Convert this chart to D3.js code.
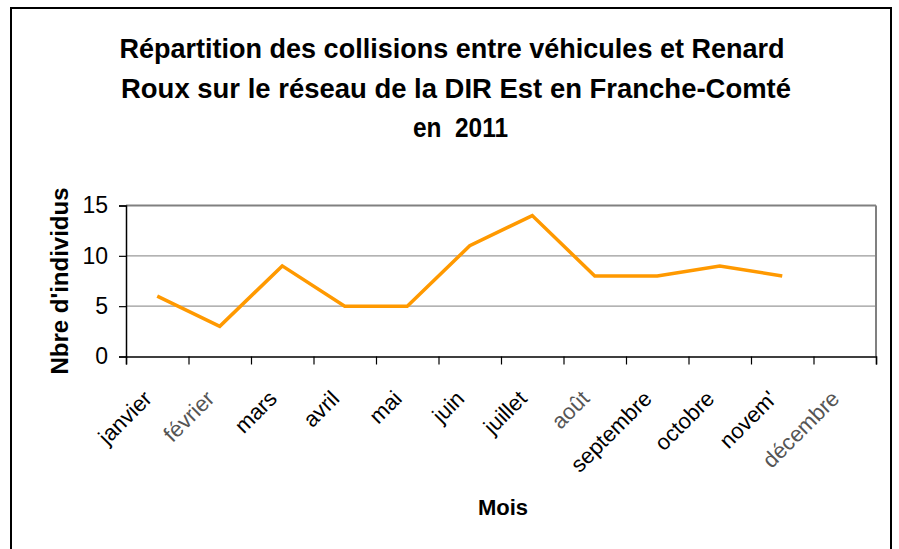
<!DOCTYPE html>
<html>
<head>
<meta charset="utf-8">
<script src="https://cdn.jsdelivr.net/npm/d3@7"></script>
<style>
  body { margin: 0; background: #fff; }
  svg { display: block; font-family: "Liberation Sans", Arial, sans-serif; }
</style>
</head>
<body>
<svg id="chart" width="899" height="549"></svg>
<script>
/* Collisions véhicules / Renard Roux, DIR Est, Franche-Comté 2011 */

// Data
var months = ["janvier", "février", "mars", "avril", "mai", "juin", "juillet",
              "août", "septembre", "octobre", "novem'", "décembre"];
var counts = [6, 3, 9, 5, 5, 11, 14, 8, 8, 9, 8, null];
var yTicks = [0, 5, 10, 15];
var titleLines = ["Répartition des collisions entre véhicules et Renard",
                  "Roux sur le réseau de la DIR Est en Franche-Comté",
                  "en  2011"];

var svg = d3.select("#chart");

/* Outer frame */
svg.append("rect")
  .attr("x", 11).attr("y", 8)
  .attr("width", 880).attr("height", 560)
  .attr("fill", "#fff")
  .attr("stroke", "#000")
  .attr("stroke-width", 2);

/* Plot area */
var plotLeft = 126, plotRight = 876, plotTop = 205.5, plotBottom = 356.5;

var x = d3.scaleBand().domain(months).range([plotLeft, plotRight]);
var xEdge = d3.scaleLinear().domain([0, months.length]).range([plotLeft, plotRight]);
var y = d3.scaleLinear().domain([0, 15]).range([plotBottom, plotTop]);

// Grid lines
svg.append("g")
  .selectAll("line")
  .data(yTicks.filter(function(d) { return d > 0; }))
  .join("line")
  .attr("x1", plotLeft).attr("x2", plotRight)
  .attr("y1", function(d) { return y(d); })
  .attr("y2", function(d) { return y(d); })
  .attr("stroke", function(d) { return d == 15 ? "#808080" : "#9a9a9a"; })
  .attr("stroke-width", function(d) { return d == 15 ? 2 : 1.2; });

// Right edge of plot area
svg.append("line")
  .attr("x1", plotRight).attr("x2", plotRight)
  .attr("y1", plotTop).attr("y2", plotBottom)
  .attr("stroke", "#808080").attr("stroke-width", 2);

/* Y axis */
var yAxis = svg.append("g")
  .attr("transform", "translate(" + plotLeft + ",0)")
  .call(d3.axisLeft(y).tickValues(yTicks).tickSize(7).tickPadding(11));
yAxis.select(".domain").attr("stroke", "#000").attr("stroke-width", 1.5);
yAxis.selectAll(".tick line").attr("stroke", "#000").attr("stroke-width", 1.2);
yAxis.selectAll(".tick text")
  .attr("font-size", 23)
  .attr("font-family", "Liberation Sans, Arial, sans-serif")
  .attr("fill", "#000");

/* X axis: ticks between categories */
var xAxis = svg.append("g")
  .attr("transform", "translate(0," + plotBottom + ")")
  .call(d3.axisBottom(xEdge).ticks(months.length).tickSize(8).tickFormat(""));
xAxis.select(".domain").attr("stroke", "#000").attr("stroke-width", 1.5);
xAxis.selectAll(".tick line").attr("stroke", "#000").attr("stroke-width", 1.2);

// Rotated category labels
svg.append("g")
  .selectAll("text")
  .data(months)
  .join("text")
  .attr("transform", function(d) {
    return "translate(" + (x(d) + x.bandwidth() / 2 - 4) + ",400) rotate(-45)";
  })
  .attr("text-anchor", "end")
  .attr("font-size", 22)
  .attr("fill", function(d) { return /[éû]/.test(d) ? "#555" : "#000"; })
  .text(function(d) { return d; });

/* Series line */
var line = d3.line()
  .defined(function(d) { return d != null; })
  .x(function(d, i) { return x(months[i]) + x.bandwidth() / 2; })
  .y(function(d) { return y(d); });

svg.append("path")
  .datum(counts)
  .attr("d", line)
  .attr("fill", "none")
  .attr("stroke", "#FF9900")
  .attr("stroke-width", 3.5)
  .attr("stroke-linejoin", "miter");

/* Titles */
var titleX = [119.5, 121, 413];
var titleW = [665, 670, 95];
svg.append("g")
  .selectAll("text")
  .data(titleLines)
  .join("text")
  .attr("x", function(d, i) { return titleX[i]; })
  .attr("y", function(d, i) { return 58 + i * 39.5; })
  .attr("font-size", 28)
  .attr("font-weight", "bold")
  .attr("textLength", function(d, i) { return titleW[i]; })
  .attr("lengthAdjust", "spacingAndGlyphs")
  .style("white-space", "pre")
  .text(function(d) { return d; });

// Axis titles
svg.append("text")
  .attr("transform", "translate(68," + ((plotTop + plotBottom) / 2) + ") rotate(-90)")
  .attr("text-anchor", "middle")
  .attr("font-size", 24)
  .attr("font-weight", "bold")
  .text("Nbre d'individus");

svg.append("text")
  .attr("x", (plotLeft + plotRight) / 2 + 2)
  .attr("y", 515)
  .attr("text-anchor", "middle")
  .attr("font-size", 22)
  .attr("font-weight", "bold")
  .text("Mois");
</script>
</body>
</html>
